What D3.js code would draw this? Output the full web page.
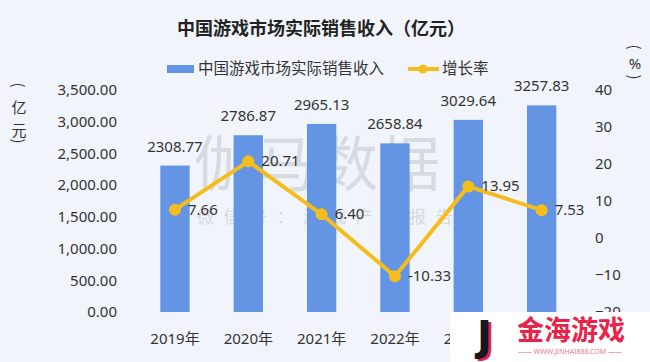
<!DOCTYPE html>
<html><head><meta charset="utf-8">
<script src="https://cdn.jsdelivr.net/npm/d3@7"></script>
<style>
html,body{margin:0;padding:0;background:#F1F5FB;}
svg{display:block;}
</style></head>
<body><svg id="c" width="650" height="362"></svg>
<script>
const years = ["2019年","2020年","2021年","2022年","2023年","2024年"];
const revenue = [2308.77, 2786.87, 2965.13, 2658.84, 3029.64, 3257.83];
const growth = [7.66, 20.71, 6.40, -10.33, 13.95, 7.53];
const leftTicks = [0,500,1000,1500,2000,2500,3000,3500];
const rightTicks = [-20,-10,0,10,20,30,40];

const CJK = '"Noto Sans CJK SC","Noto Sans",sans-serif';
const NUM = '"Noto Sans","Noto Sans CJK SC",sans-serif';
const svg = d3.select("#c").style("font-family",CJK);
const W=650,H=362;
svg.append("rect").attr("width",W).attr("height",H).attr("fill","#F1F5FB");

const x = d3.scaleBand().domain(years).range([138.3,578.3]).paddingInner(0.6).paddingOuter(0.3);
const yL = d3.scaleLinear().domain([0,3500]).range([312,90]);
const yR = d3.scaleLinear().domain([-20,40]).range([312,90]);
const textCol="#333";
const blue="#6495E5", gold="#F5BD1C";

// title
svg.append("text").attr("x",321).attr("y",35).attr("text-anchor","middle")
  .attr("font-size",18).attr("font-weight","bold").attr("fill","#222")
  .style("font-family",CJK).text("中国游戏市场实际销售收入（亿元）");

// watermark
svg.append("text").attr("x",318).attr("y",186).attr("text-anchor","middle")
  .attr("font-size",60).attr("fill","#c6c9ce").attr("fill-opacity",0.6).attr("letter-spacing",2)
  .style("font-family",CJK).text("伽马数据");
svg.append("text").attr("x",197).attr("y",223)
  .attr("font-size",17).attr("fill","#c6c9ce").attr("fill-opacity",0.65).attr("letter-spacing",9.5)
  .style("font-family",CJK).text("微信号：游戏产业报告");

// legend
svg.append("rect").attr("x",167).attr("y",65).attr("width",27).attr("height",8).attr("fill",blue);
svg.append("text").attr("x",198).attr("y",70).attr("dominant-baseline","middle")
  .attr("font-size",15.5).attr("fill",textCol).style("font-family",CJK).text("中国游戏市场实际销售收入");
svg.append("line").attr("x1",408).attr("x2",439).attr("y1",69).attr("y2",69)
  .attr("stroke",gold).attr("stroke-width",4);
svg.append("circle").attr("cx",423).attr("cy",69).attr("r",4.5).attr("fill",gold);
svg.append("text").attr("x",442).attr("y",70).attr("dominant-baseline","middle")
  .attr("font-size",15.5).attr("fill",textCol).style("font-family",CJK).text("增长率");

// axes
const gL = svg.append("g").attr("transform","translate(117,0)")
  .call(d3.axisLeft(yL).tickValues(leftTicks).tickSize(0).tickPadding(0).tickFormat(d3.format(",.2f")));
gL.select(".domain").remove();
gL.selectAll("text").attr("font-size",15).attr("fill",textCol).style("font-family",NUM);

const gR = svg.append("g").attr("transform","translate(595,0)")
  .call(d3.axisRight(yR).tickValues(rightTicks).tickSize(0).tickPadding(0));
gR.select(".domain").remove();
gR.selectAll("text").attr("font-size",15).attr("fill",textCol).style("font-family",NUM);

const gX = svg.append("g").attr("transform","translate(0,330)")
  .call(d3.axisBottom(x).tickSize(0).tickPadding(0));
gX.select(".domain").remove();
gX.selectAll("text").attr("font-size",15).attr("fill",textCol).attr("dy","0.9em").style("font-family",NUM);

// axis titles (vertical, stacked characters; brackets rotated)
function vTitle(cx, items){
  const g = svg.append("g");
  items.forEach(it=>{
    const t = g.append("text").attr("x",cx).attr("y",it.y)
      .attr("text-anchor","middle").attr("dominant-baseline","central")
      .attr("font-size",15).attr("fill",textCol)
      .style("font-family",it.num?NUM:CJK).text(it.t);
    if(it.rot) t.attr("transform",`rotate(90,${cx},${it.y})`);
  });
}
vTitle(19,[{t:"(",y:85,rot:true},{t:"亿",y:106},{t:"元",y:129},{t:")",y:141,rot:true}]);
vTitle(635,[{t:"(",y:47,rot:true},{t:"%",y:63,num:true},{t:")",y:77,rot:true}]);

// bars
svg.append("g").selectAll("rect").data(revenue).join("rect")
  .attr("x",(d,i)=>x(years[i])).attr("width",x.bandwidth())
  .attr("y",d=>yL(d)).attr("height",d=>yL(0)-yL(d)).attr("fill",blue);
svg.append("g").selectAll("text").data(revenue).join("text")
  .attr("x",(d,i)=>x(years[i])+x.bandwidth()/2).attr("y",d=>yL(d)-14)
  .attr("text-anchor","middle").attr("font-size",15).attr("fill",textCol)
  .style("font-family",NUM).text(d=>d.toFixed(2));

// line
const pts = growth.map((g,i)=>[x(years[i])+x.bandwidth()/2, yR(g)]);
svg.append("path").datum(pts).attr("d",d3.line()).attr("fill","none")
  .attr("stroke",gold).attr("stroke-width",4).attr("stroke-linejoin","round");
svg.append("g").selectAll("circle").data(pts).join("circle")
  .attr("cx",d=>d[0]).attr("cy",d=>d[1]).attr("r",6).attr("fill",gold);
svg.append("g").selectAll("text").data(growth).join("text")
  .attr("x",(d,i)=>pts[i][0]+13).attr("y",(d,i)=>pts[i][1]+1)
  .attr("dominant-baseline","middle").attr("font-size",15).attr("fill",textCol)
  .style("font-family",NUM).text(d=>d.toFixed(2));

// logo overlay
const lg = svg.append("g");
lg.append("rect").attr("x",450).attr("y",312).attr("width",200).attr("height",50).attr("fill","#ffffff");
lg.append("text").attr("x",480).attr("y",352).attr("font-size",40).attr("font-weight","bold")
  .style("font-family","DejaVu Sans").attr("fill","#E8234A").text("J");
lg.append("text").attr("x",477).attr("y",350).attr("font-size",40).attr("font-weight","bold")
  .style("font-family","DejaVu Sans").attr("fill","#151822").text("J");
lg.append("text").attr("x",517).attr("y",340).attr("font-size",27).attr("font-weight","bold")
  .attr("fill","#E8234A").style("font-family",CJK).text("金海游戏");
lg.append("text").attr("x",570).attr("y",354).attr("text-anchor","middle").attr("font-size",7)
  .attr("fill","#E57A8E").style("font-family",NUM).text("—— WWW.JINHAI888.COM ——");
</script></body></html>
